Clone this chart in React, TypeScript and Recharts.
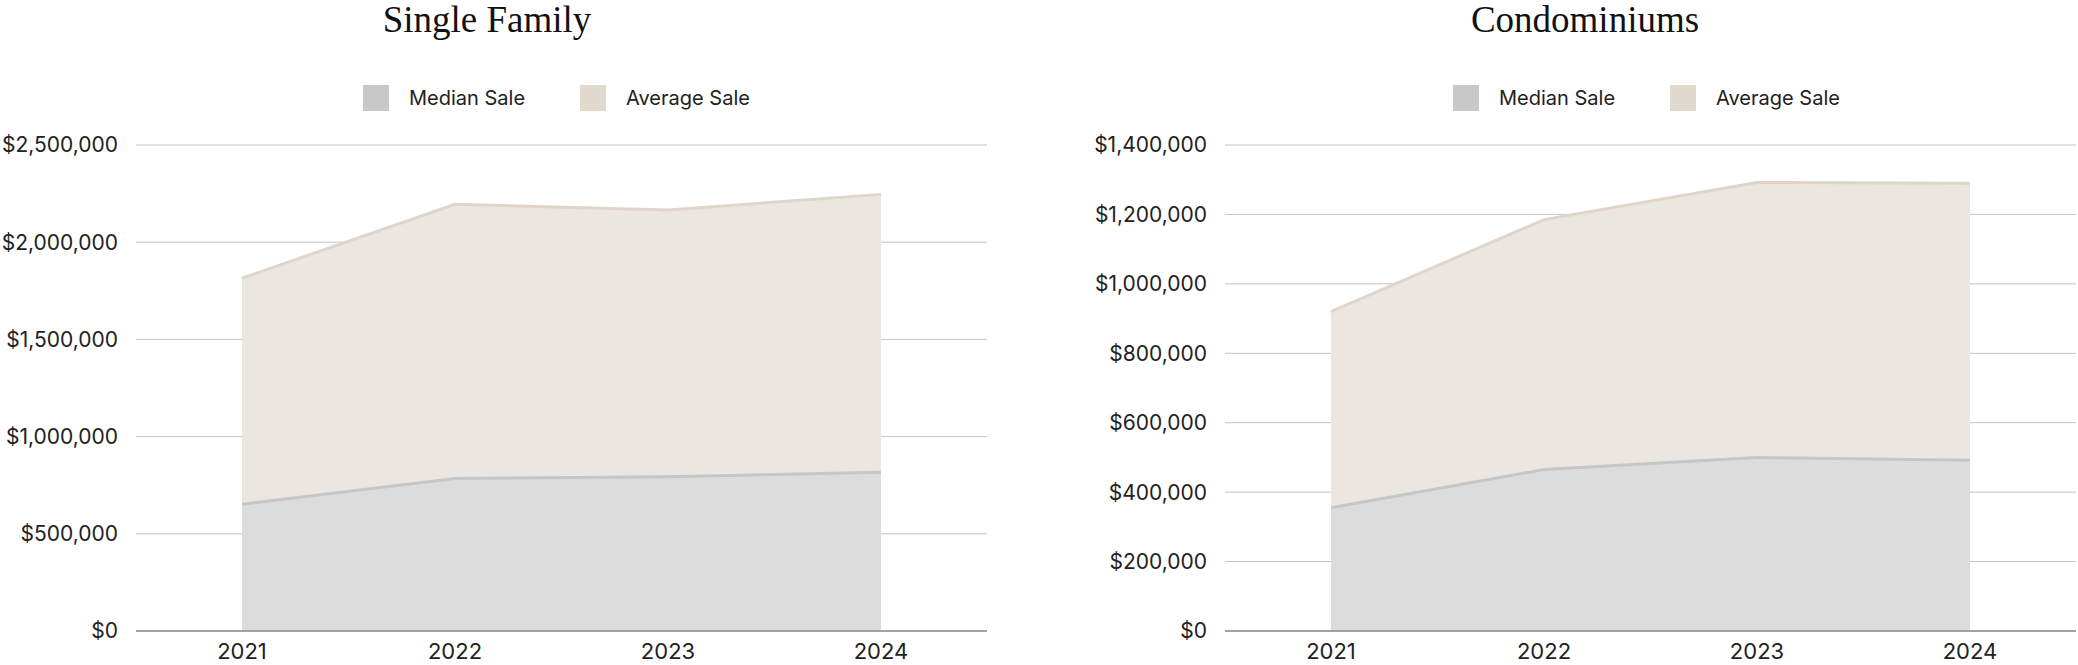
import React from "react";
import { AreaChart, Area, XAxis, YAxis, CartesianGrid } from "recharts";

const years = ["2021", "2022", "2023", "2024"];

const singleMedian = [652000, 785000, 794000, 816000];
const singleAverage = [1815000, 2195000, 2166000, 2246000];
const singleTicks = [0, 500000, 1000000, 1500000, 2000000, 2500000];

const condoMedian = [355000, 465000, 500000, 492000];
const condoAverage = [920000, 1185000, 1292000, 1290000];
const condoTicks = [0, 200000, 400000, 600000, 800000, 1000000, 1200000, 1400000];

const seriesNames = ["Median Sale", "Average Sale"];
const legendColors = ["#c8c8c8", "#e1d8ce"];

const sans = "Inter, 'Noto Sans', sans-serif";

const money = (v: number) => "$" + v.toLocaleString("en-US");

type PanelProps = {
  title: string;
  median: number[];
  average: number[];
  ticks: number[];
  left: number;
  titleCenter: number;
  legendLeft: number;
};

const Panel = ({ title, median, average, ticks, left, titleCenter, legendLeft }: PanelProps) => {
  const data = years.map((year, i) => ({
    year,
    median: median[i],
    average: average[i],
  }));

  return (
    <>
      <div
        style={{
          position: "absolute",
          left: titleCenter - 200,
          width: 400,
          top: 1,
          textAlign: "center",
          fontFamily: "'Liberation Serif', serif",
          fontSize: 37,
          lineHeight: "37px",
          color: "#111",
        }}
      >
        {title}
      </div>
      <div
        style={{
          position: "absolute",
          left: legendLeft,
          top: 85,
          height: 26,
          display: "flex",
          alignItems: "center",
          fontFamily: sans,
          fontSize: 20,
          color: "#222",
        }}
      >
        {seriesNames.map((name, i) => (
          <div key={name} style={{ display: "flex", alignItems: "center", marginRight: i === 0 ? 55 : 0 }}>
            <span style={{ width: 26, height: 26, background: legendColors[i], marginRight: 20 }} />
            <span>{name}</span>
          </div>
        ))}
      </div>
      <div style={{ position: "absolute", left, top: 0 }}>
        <AreaChart width={989} height={665} data={data} margin={{ top: 145, right: 2, bottom: 0, left: 0 }}>
          <Area
            type="linear"
            dataKey="average"
            name="Average Sale"
            stroke="#e0d5ca"
            strokeWidth={3}
            fill="#ebe6e0"
            fillOpacity={1}
            dot={false}
            activeDot={false}
            isAnimationActive={false}
          />
          <Area
            type="linear"
            dataKey="median"
            name="Median Sale"
            stroke="#c6c6c9"
            strokeWidth={3}
            fill="#dcdcdc"
            fillOpacity={1}
            dot={false}
            activeDot={false}
            isAnimationActive={false}
          />
          <CartesianGrid vertical={false} stroke="#c4c4c4" />
          <XAxis
            dataKey="year"
            padding={{ left: 106, right: 106 }}
            height={34}
            tickLine={false}
            axisLine={{ stroke: "#8c8c8c", strokeWidth: 1.5 }}
            tickMargin={6}
            tick={{ fontSize: 22, fill: "#222", fontFamily: sans }}
          />
          <YAxis
            width={136}
            domain={[0, ticks[ticks.length - 1]]}
            ticks={ticks}
            interval={0}
            axisLine={false}
            tickLine={false}
            tickMargin={12}
            tickFormatter={money}
            tick={{ fontSize: 21, fill: "#222", fontFamily: sans }}
          />
        </AreaChart>
      </div>
    </>
  );
};

export default function App() {
  return (
    <div
      style={{
        position: "absolute",
        left: 0,
        top: 0,
        width: 2078,
        height: 665,
        overflow: "hidden",
        background: "#fff",
      }}
    >
      <Panel
        title="Single Family"
        median={singleMedian}
        average={singleAverage}
        ticks={singleTicks}
        left={0}
        titleCenter={487}
        legendLeft={363}
      />
      <Panel
        title="Condominiums"
        median={condoMedian}
        average={condoAverage}
        ticks={condoTicks}
        left={1089}
        titleCenter={1585}
        legendLeft={1453}
      />
    </div>
  );
}
